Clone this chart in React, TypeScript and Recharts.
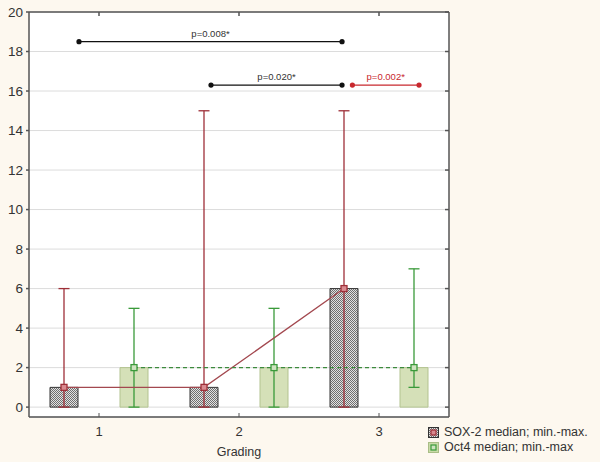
import React from 'react';
import {
  ComposedChart,
  Bar,
  XAxis,
  YAxis,
  CartesianGrid,
  ErrorBar,
  Scatter,
  ReferenceDot,
  Legend,
} from 'recharts';

// ---- data ----
const grades = ['1', '2', '3'];
const soxMedian = [1, 1, 6];
const soxMin = [0, 0, 0];
const soxMax = [6, 15, 15];
const octMedian = [2, 2, 2];
const octMin = [0, 0, 1];
const octMax = [5, 5, 7];
const yTicks = [0, 2, 4, 6, 8, 10, 12, 14, 16, 18, 20];

const bracketLabels = ['p=0.008*', 'p=0.020*', 'p=0.002*'];
const bracketStart = [0.857, 1.8, 2.81];
const bracketEnd = [2.736, 2.736, 3.286];
const bracketLevel = [18.5, 16.3, 16.3];
const bracketColors = ['#111111', '#111111', '#c8282e'];
const bracketTextColors = ['#333333', '#333333', '#c8282e'];

// ---- styling constants ----
const FONT = '"Liberation Sans", Arial, sans-serif';
const AXIS = '#555555';
const SOX = '#9e2f38';
const OCT = '#3a9a3a';
const BAR_SHIFT = 0.25; // bar center offset from category center (in category units)

const chartData = grades.map((g, i) => ({
  grade: g,
  sox: soxMedian[i],
  soxErr: [soxMedian[i] - soxMin[i], soxMax[i] - soxMedian[i]],
  oct: octMedian[i],
  octErr: [octMedian[i] - octMin[i], octMax[i] - octMedian[i]],
}));

const soxPoints = grades.map((g, i) => ({ x: i + 1 - BAR_SHIFT, y: soxMedian[i] }));
const octPoints = grades.map((g, i) => ({ x: i + 1 + BAR_SHIFT, y: octMedian[i] }));

const SoxMarker = (p: any) => (
  <rect x={p.cx - 3} y={p.cy - 3} width={6} height={6} fill="#d98a90" stroke={SOX} strokeWidth={1.3} />
);
const OctMarker = (p: any) => (
  <rect x={p.cx - 3} y={p.cy - 3} width={6} height={6} fill="#cfe3c0" stroke={OCT} strokeWidth={1.3} />
);

const BottomTick = (p: any) => {
  const axisY = p.y - 2;
  return (
    <g>
      <line x1={p.x} x2={p.x} y1={axisY} y2={axisY - 4} stroke={AXIS} strokeWidth={1} />
      <text x={p.x} y={axisY + 19} textAnchor="middle" fill="#333" fontSize={13} fontFamily={FONT}>
        {p.payload.value}
      </text>
    </g>
  );
};

const LegendContent = () => (
  <div style={{ fontFamily: FONT, fontSize: 12.5, color: '#333', lineHeight: '15px' }}>
    <div style={{ display: 'flex', alignItems: 'center' }}>
      <svg width={11} height={11} style={{ marginRight: 5 }}>
        <rect x={0.5} y={0.5} width={10} height={10} fill="url(#hatch)" stroke="#333" />
        <rect x={3} y={3} width={5} height={5} fill="#d98a90" stroke={SOX} strokeWidth={1.2} />
      </svg>
      <span>SOX-2 median; min.-max.</span>
    </div>
    <div style={{ display: 'flex', alignItems: 'center' }}>
      <svg width={11} height={11} style={{ marginRight: 5 }}>
        <rect x={0.5} y={0.5} width={10} height={10} fill="#c9dba8" stroke="#a9bd86" />
        <rect x={3} y={3} width={5} height={5} fill="#cfe3c0" stroke={OCT} strokeWidth={1.2} />
      </svg>
      <span>Oct4 median; min.-max</span>
    </div>
  </div>
);

export default function App() {
  return (
    <div
      style={{
        position: 'absolute',
        left: 0,
        top: 0,
        width: 600,
        height: 462,
        background: '#fdf8ef',
      }}
    >
      <svg width={0} height={0} style={{ position: 'absolute' }}>
        <defs>
          <pattern id="hatch" width={2} height={2} patternUnits="userSpaceOnUse">
            <rect width={2} height={2} fill="#e2e2e2" />
            <rect x={0} y={0} width={1} height={1} fill="#707070" />
            <rect x={1} y={1} width={1} height={1} fill="#707070" />
          </pattern>
        </defs>
      </svg>
      <ComposedChart
        width={600}
        height={462}
        data={chartData}
        margin={{ top: 12, right: 151, bottom: 0, left: 0 }}
        barGap={42}
        baseValue="dataMin"
      >
        <CartesianGrid vertical={false} stroke="#dcdcdc" fill="#ffffff" yAxisId="left" xAxisId="cat" />
        <XAxis
          xAxisId="cat"
          dataKey="grade"
          height={45}
          stroke={AXIS}
          strokeWidth={1.5}
          tickLine={false}
          tickSize={0}
          tickMargin={2}
          tick={<BottomTick />}
          label={{ value: 'Grading', position: 'insideBottom', offset: 6, fill: '#333', fontSize: 12.5, fontFamily: FONT }}
        />
        <XAxis
          xAxisId="top"
          dataKey="grade"
          orientation="top"
          mirror
          stroke={AXIS}
          strokeWidth={1.5}
          tickSize={4}
          tickFormatter={() => ''}
        />
        <XAxis xAxisId="num" dataKey="x" type="number" domain={[0.5, 3.5]} hide allowDataOverflow />
        <YAxis
          yAxisId="left"
          width={29}
          domain={[-0.5, 20]}
          ticks={yTicks}
          allowDataOverflow
          stroke={AXIS}
          strokeWidth={1.5}
          tickSize={3}
          tickMargin={3}
          tick={{ fill: '#333', fontSize: 13.5, fontFamily: FONT }}
        />
        <YAxis
          yAxisId="right"
          orientation="right"
          mirror
          domain={[-0.5, 20]}
          ticks={yTicks}
          allowDataOverflow
          stroke={AXIS}
          strokeWidth={1.5}
          tickSize={4}
          tickFormatter={() => ''}
        />
        <Bar
          dataKey="sox"
          xAxisId="cat"
          yAxisId="left"
          barSize={28}
          fill="url(#hatch)"
          stroke="#333"
          strokeWidth={1}
          isAnimationActive={false}
        >
          <ErrorBar dataKey="soxErr" width={5.5} stroke={SOX} strokeWidth={1.3} direction="y" />
        </Bar>
        <Bar
          dataKey="oct"
          xAxisId="cat"
          yAxisId="left"
          barSize={28}
          fill="#d5e0b8"
          stroke="#b3c390"
          strokeWidth={1}
          isAnimationActive={false}
        >
          <ErrorBar dataKey="octErr" width={5.5} stroke={OCT} strokeWidth={1.3} direction="y" />
        </Bar>
        <Scatter
          data={soxPoints}
          dataKey="y"
          xAxisId="num"
          yAxisId="left"
          line={{ stroke: '#a3484f', strokeWidth: 1.3 }}
          shape={<SoxMarker />}
          isAnimationActive={false}
        />
        <Scatter
          data={octPoints}
          dataKey="y"
          xAxisId="num"
          yAxisId="left"
          line={{ stroke: '#3c8a3c', strokeWidth: 1.3, strokeDasharray: '4 3' }}
          shape={<OctMarker />}
          isAnimationActive={false}
        />
        {bracketLabels.map((lab, i) => (
          <Scatter
            key={'br' + i}
            data={[
              { x: bracketStart[i], y: bracketLevel[i] },
              { x: bracketEnd[i], y: bracketLevel[i] },
            ]}
            dataKey="y"
            xAxisId="num"
            yAxisId="left"
            line={{ stroke: bracketColors[i], strokeWidth: 1.2 }}
            shape={(p: any) => <circle cx={p.cx} cy={p.cy} r={2.6} fill={bracketColors[i]} />}
            isAnimationActive={false}
          />
        ))}
        {bracketLabels.map((lab, i) => (
          <ReferenceDot
            key={'lb' + i}
            xAxisId="num"
            yAxisId="left"
            x={(bracketStart[i] + bracketEnd[i]) / 2}
            y={bracketLevel[i]}
            r={0}
            stroke="none"
            fill="none"
            label={{ value: lab, position: 'top', offset: 5, fill: bracketTextColors[i], fontSize: 9.5, fontFamily: FONT }}
          />
        ))}
        <Legend
          layout="horizontal"
          verticalAlign="middle"
          align="center"
          content={<LegendContent />}
          wrapperStyle={{ position: 'absolute', left: 428, top: 425, width: 172 }}
        />
      </ComposedChart>
    </div>
  );
}
